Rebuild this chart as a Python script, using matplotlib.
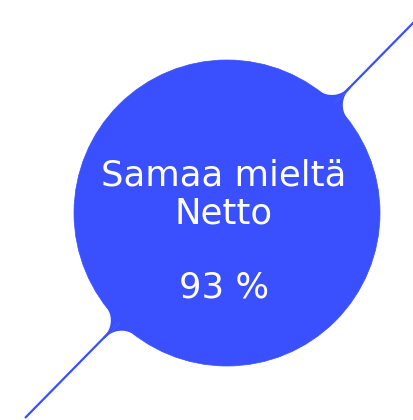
import numpy as np
import matplotlib.pyplot as plt
from matplotlib.patches import Circle, Polygon

# chart data
label_lines = ["Samaa mieltä", "Netto"]
value = 93
value_text = f"{value} %"

# bubble and connector line (pixel coords)
center = (227, 213)
radius = 153
line_start = (25, 418)
line_end = (414, 22)

blue = '#3a50ff'
fillet_r = 22
half_w = 1.0

fig = plt.figure(figsize=(4.14, 4.20), dpi=100)
ax = fig.add_axes([0, 0, 1, 1])
ax.set_xlim(0, 414)
ax.set_ylim(420, 0)
ax.axis('off')

ax.plot([line_start[0], line_end[0]], [line_start[1], line_end[1]],
        color=blue, linewidth=1.6, solid_capstyle='butt', zorder=1)
ax.add_patch(Circle(center, radius, facecolor=blue, edgecolor=blue, linewidth=0.5, zorder=2))

# smooth joins between line and circle
c = np.array(center, dtype=float)
for end in [line_start, line_end]:
    u = np.array(end, dtype=float) - c
    u = u / np.linalg.norm(u)
    n = np.array([-u[1], u[0]])
    t = np.sqrt((radius + fillet_r) ** 2 - (half_w + fillet_r) ** 2)
    for s in [-1, 1]:
        f = c + t * u + s * (half_w + fillet_r) * n
        p1 = c + t * u + s * half_w * n
        p2 = c + (f - c) * radius / (radius + fillet_r)
        a1 = np.arctan2(*(p1 - f)[::-1])
        a2 = np.arctan2(*(p2 - f)[::-1])
        d = (a2 - a1 + np.pi) % (2 * np.pi) - np.pi
        angs = a1 + np.linspace(0, 1, 40) * d
        arc = np.column_stack([f[0] + fillet_r * np.cos(angs), f[1] + fillet_r * np.sin(angs)])
        pts = np.vstack([arc, c + s * half_w * n])
        ax.add_patch(Polygon(pts, closed=True, facecolor=blue, edgecolor='none', zorder=2))
    # cover the seam between the two halves
    seg = np.array([c + radius * 0.9 * u, c + (t + 2) * u])
    ax.plot(seg[:, 0], seg[:, 1], color=blue, linewidth=1.6, solid_capstyle='butt', zorder=2)

font = dict(color='white', fontsize=25.5, fontfamily='DejaVu Sans', fontweight='normal',
            ha='center', va='baseline', zorder=3)
for txt, y in zip(label_lines, [185, 223]):
    ax.text(224, y, txt, **font)
ax.text(224, 297, value_text, **font)

fig.savefig('out.png', dpi=100)
